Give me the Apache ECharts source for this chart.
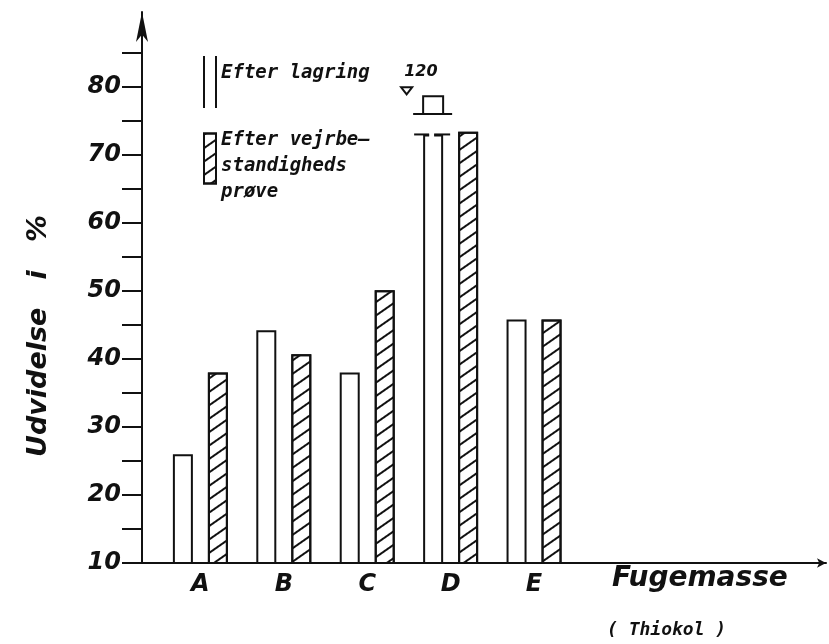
<!DOCTYPE html>
<html><head><meta charset="utf-8">
<script src="https://cdn.jsdelivr.net/npm/echarts@6/dist/echarts.min.js"></script>
<style>html,body{margin:0;padding:0;background:#fff}#c{width:829px;height:644px}</style>
</head><body><div id="c"></div>
<script>
// ---- data ----
const categories = ['A', 'B', 'C', 'D', 'E'];
const categoryPos = [1, 2, 3, 4, 5];
const afterStorage = [26, 44.2, 38, 120, 45.8];      // "Efter lagring" (open bars)
const afterWeathering = [38, 40.7, 50.1, 73.4, 45.8]; // "Efter vejrbestandighedsprøve" (hatched)
const yTickValues = [10, 15, 20, 25, 30, 35, 40, 45, 50, 55, 60, 65, 70, 75, 80, 85];
const yLabelValues = [10, 20, 30, 40, 50, 60, 70, 80];
const seriesNames = ['Efter lagring', 'Efter vejrbestandigheds prøve'];
const legendLabels = [['Efter lagring'], ['Efter vejrbe—', 'standigheds', 'prøve']];
const yName = 'Udvidelse   i   %';
const xName = 'Fugemasse';
const xSubName = '( Thiokol )';

// ---- style constants ----
const INK = '#111';
const BAR_W = 20;
const BAR_GAP_PX = 15;
const WHITE_OFFSET = -(BAR_W + BAR_GAP_PX) / 2;
const breakAt = 73;   // off-scale bars are cut here
const capBase = 76;   // drawn cap for off-scale bar
const capTop = 78.6;
const FONT = '"DejaVu Sans", sans-serif';
const MONO = '"DejaVu Sans Mono", monospace';

const chart = echarts.init(document.getElementById('c'), null, {renderer: 'canvas'});

function renderBreak(params, api) {
  const x = api.value(0), v = api.value(1);
  const pB = api.coord([x, breakAt]);
  const pBase = api.coord([x, capBase]);
  const pTop = api.coord([x, capTop]);
  const cx = pB[0] + WHITE_OFFSET;
  const l = cx - BAR_W / 2, r = cx + BAR_W / 2;
  const ln = {stroke: INK, lineWidth: 2};
  return {type: 'group', children: [
    {type: 'rect', shape: {x: cx - 4, y: pB[1] - 3, width: 5, height: 6}, style: {fill: '#fff'}},
    {type: 'line', shape: {x1: l - 9, y1: pB[1], x2: cx - 4, y2: pB[1]}, style: ln},
    {type: 'line', shape: {x1: cx + 1, y1: pB[1], x2: r + 7, y2: pB[1]}, style: ln},
    {type: 'line', shape: {x1: l - 10, y1: pBase[1], x2: r + 9, y2: pBase[1]}, style: ln},
    {type: 'polyline', shape: {points: [[l, pBase[1]], [l, pTop[1]], [r, pTop[1]], [r, pBase[1]]]}, style: {stroke: INK, lineWidth: 2, fill: null}},
    {type: 'polygon', shape: {points: [[l - 22, pTop[1] - 9], [l - 11, pTop[1] - 9], [l - 16.5, pTop[1] - 2]]}, style: {stroke: INK, lineWidth: 2, fill: '#fff'}},
    {type: 'text', x: l - 19, y: pTop[1] - 17, style: {text: String(v), fill: INK, font: 'italic bold 16px ' + FONT, verticalAlign: 'bottom', align: 'left'}}
  ]};
}

const legendText = {fontFamily: MONO, fontStyle: 'italic', fontWeight: 'bold', fontSize: 19, lineHeight: 26, color: INK,
  rich: {a: {fontFamily: MONO, fontStyle: 'italic', fontWeight: 'bold', fontSize: 19, lineHeight: 26, color: INK},
         s: {fontSize: 10, lineHeight: 17}, s2: {fontSize: 10, lineHeight: 15}}};

const option = {
  animation: false,
  backgroundColor: '#fff',
  grid: {left: 142, right: 3, top: 12, bottom: 81},
  legend: [
    {orient: 'vertical', left: 203, top: 55, padding: 0, itemWidth: 12, itemHeight: 52, selectedMode: false,
      data: [{name: seriesNames[0], icon: 'path://M0,0L0,52M12,0L12,52'}],
      formatter: () => legendLabels[0].map(t => '{a|' + t + '}').join('\n') + '\n{s| }',
      textStyle: legendText},
    {orient: 'vertical', left: 203, top: 112, padding: 0, itemWidth: 12, itemHeight: 50, selectedMode: false,
      data: [{name: seriesNames[1], icon: 'rect'}],
      formatter: () => '{s2| }\n' + legendLabels[1].map(t => '{a|' + t + '}').join('\n'),
      textStyle: legendText}
  ],
  xAxis: {
    type: 'value', min: 0.3, max: 8.5,
    axisLine: {show: true, onZero: false, lineStyle: {color: INK, width: 2}, symbol: ['none', 'arrow'], symbolSize: [7, 9], symbolOffset: [0, 0]},
    axisTick: {show: false}, splitLine: {show: false},
    axisLabel: {customValues: categoryPos, formatter: v => categories[categoryPos.indexOf(v)], margin: 10,
      fontFamily: FONT, fontStyle: 'italic', fontWeight: 'bold', fontSize: 24, color: INK}
  },
  yAxis: {
    type: 'value', min: 10, max: 91,
    axisLine: {show: true, lineStyle: {color: INK, width: 2}, symbol: ['none', 'arrow'], symbolSize: [9, 30], symbolOffset: [0, 0]},
    axisTick: {show: true, length: 20, lineStyle: {color: INK, width: 2}, customValues: yTickValues},
    axisLabel: {customValues: yLabelValues, margin: 21, fontFamily: FONT, fontStyle: 'italic', fontWeight: 'bold', fontSize: 24, color: INK},
    splitLine: {show: false}
  },
  graphic: [
    {type: 'text', x: 39, y: 336, rotation: Math.PI / 2, style: {text: yName, fill: INK, font: 'italic bold 27px ' + FONT, align: 'center', verticalAlign: 'middle'}},
    {type: 'text', left: 612, top: 565, style: {text: xName, fill: INK, font: 'italic bold 28px ' + FONT}},
    {type: 'text', left: 607, top: 621, style: {text: xSubName, fill: INK, font: 'italic bold 18px ' + MONO}}
  ],
  series: [
    {type: 'bar', name: seriesNames[0], barWidth: BAR_W, barGap: (BAR_GAP_PX / BAR_W * 100) + '%',
      data: afterStorage.map((v, i) => [categoryPos[i], Math.min(v, breakAt)]),
      itemStyle: {color: '#fff', borderColor: INK, borderWidth: 2}},
    {type: 'bar', name: seriesNames[1], barWidth: BAR_W,
      data: afterWeathering.map((v, i) => [categoryPos[i], v]),
      itemStyle: {color: '#fff', borderColor: INK, borderWidth: 2,
        decal: {symbol: 'rect', symbolSize: 1, dashArrayX: [1, 0], dashArrayY: [1.3, 8.1], rotation: -0.61, color: INK}}},
    {type: 'custom', name: 'break', silent: true, clip: false, z: 3,
      data: afterStorage.map((v, i) => [categoryPos[i], v]).filter(d => d[1] > breakAt),
      renderItem: renderBreak}
  ]
};
chart.setOption(option);
</script>
</body></html>
